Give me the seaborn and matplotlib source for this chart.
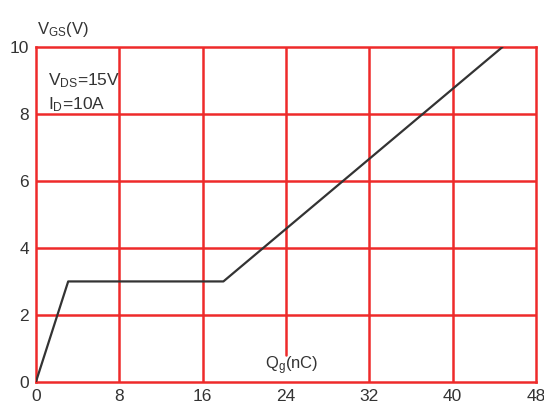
import matplotlib
matplotlib.use("Agg")
import matplotlib.pyplot as plt
import seaborn as sns
import pandas as pd

# Gate charge curve: Qg (nC) vs VGS (V)
qg_nc = [0, 3.1, 18.0, 44.8]
vgs_v = [0, 3.0, 3.0, 10.0]
x_ticks = [0, 8, 16, 24, 32, 40, 48]
y_ticks = [0, 2, 4, 6, 8, 10]

sns.set_style("white")
plt.rcParams["font.family"] = ["Liberation Sans", "DejaVu Sans"]
plt.rcParams["mathtext.default"] = "regular"

grid_red = "#ee2a2a"
text_col = "#333333"

fig = plt.figure(figsize=(5.44, 4.12), dpi=100)
ax = fig.add_axes([0.066, 0.073, 0.919, 0.813])

df = pd.DataFrame({"Qg": qg_nc, "VGS": vgs_v})

# grid drawn by hand so the 24 nC line can stop above the axis label
for x in x_ticks[1:-1]:
    ymin = 0.08 if x == 24 else 0.0
    ax.axvline(x, ymin=ymin, ymax=1, color=grid_red, lw=1.8, zorder=1)
for y in y_ticks[1:-1]:
    ax.axhline(y, color=grid_red, lw=1.8, zorder=1)

sns.lineplot(data=df, x="Qg", y="VGS", ax=ax, color="#333333", lw=1.6,
             sort=False, zorder=3)

ax.set_xlim(0, 48)
ax.set_ylim(0, 10)
ax.set_xticks(x_ticks)
ax.set_yticks(y_ticks)
ax.set_xlabel("")
ax.set_ylabel("")
ax.tick_params(length=0, labelsize=12.5, colors=text_col, pad=5)
for s in ax.spines.values():
    s.set_visible(True)
    s.set_color(grid_red)
    s.set_linewidth(1.8)

ax.text(24.6, 0.15, "Q$_g$(nC)", ha="center", va="bottom", fontsize=12,
        color=text_col)
ax.text(0.06, 10.25, "V$_{GS}$(V)", ha="left", va="bottom", fontsize=12,
        color=text_col, clip_on=False)
ax.text(1.2, 9.0, "V$_{DS}$=15V", ha="left", va="center", fontsize=12.5,
        color=text_col)
ax.text(1.2, 8.28, "I$_D$=10A", ha="left", va="center", fontsize=12.5,
        color=text_col)

fig.savefig("out.png", dpi=100)
